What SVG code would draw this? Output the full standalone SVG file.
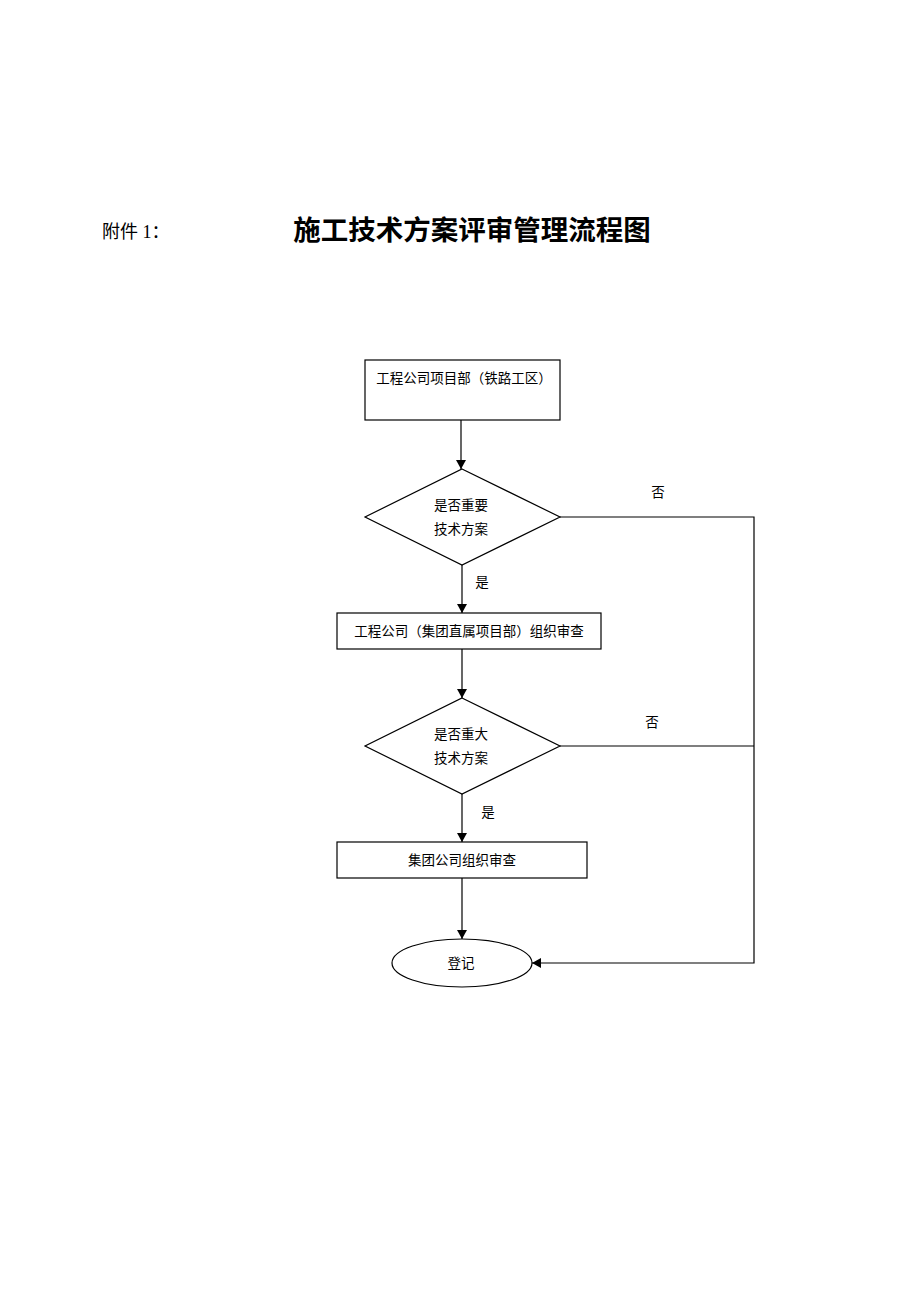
<svg xmlns="http://www.w3.org/2000/svg" width="920" height="1302" viewBox="0 0 920 1302">
<style>
.s{fill:#fff;stroke:#000;stroke-width:1.2}
.t{font-family:"Liberation Serif","Noto Sans CJK SC",serif;font-size:13.5px;fill:#000;text-anchor:middle;dominant-baseline:central}
.c{fill:none;stroke:#000;stroke-width:1.2}
</style>
<defs>
<marker id="a" markerWidth="10" markerHeight="10" refX="9" refY="5" orient="auto" markerUnits="userSpaceOnUse">
<path d="M0,0 L9,5 L0,10 Z" fill="#000"/>
</marker>
</defs>
<rect width="920" height="1302" fill="#fff"/>
<text x="102" y="232" style="font-family:'Liberation Serif','Noto Sans CJK SC',serif;font-size:18px;dominant-baseline:central">附件 1：</text>
<text x="472" y="228" style="font-family:'Noto Sans CJK SC',sans-serif;font-size:27.5px;font-weight:bold;text-anchor:middle;dominant-baseline:central">施工技术方案评审管理流程图</text>
<g id="connectors">
<line class="c" x1="461" y1="420" x2="461" y2="469" marker-end="url(#a)"/>
<line class="c" x1="462" y1="565" x2="462" y2="613" marker-end="url(#a)"/>
<line class="c" x1="462" y1="649" x2="462" y2="698" marker-end="url(#a)"/>
<line class="c" x1="462" y1="794" x2="462" y2="842" marker-end="url(#a)"/>
<line class="c" x1="462" y1="878" x2="462" y2="939" marker-end="url(#a)"/>
<polyline class="c" points="560,517 754,517 754,963 532,963" marker-end="url(#a)"/>
<line class="c" x1="560" y1="746" x2="754" y2="746"/>
<text class="t" x="658" y="492">否</text>
<text class="t" x="482" y="582">是</text>
<text class="t" x="652" y="722">否</text>
<text class="t" x="488" y="812">是</text>
</g>
<g id="n1">
<rect class="s" x="365" y="360" width="195" height="60"/>
<text class="t" x="464" y="378">工程公司项目部（铁路工区）</text>
</g>
<g id="d1">
<polygon class="s" points="462,469 560,517 462,565 365,517"/>
<text class="t" x="461" y="505">是否重要</text>
<text class="t" x="461" y="529">技术方案</text>
</g>
<g id="n2">
<rect class="s" x="337" y="613" width="264" height="36"/>
<text class="t" x="469" y="631">工程公司（集团直属项目部）组织审查</text>
</g>
<g id="d2">
<polygon class="s" points="462,698 560,746 462,794 365,746"/>
<text class="t" x="461" y="734">是否重大</text>
<text class="t" x="461" y="758">技术方案</text>
</g>
<g id="n3">
<rect class="s" x="337" y="842" width="250" height="36"/>
<text class="t" x="462" y="860">集团公司组织审查</text>
</g>
<g id="n4">
<ellipse class="s" cx="462" cy="963" rx="70" ry="24"/>
<text class="t" x="461" y="963">登记</text>
</g>
</svg>
